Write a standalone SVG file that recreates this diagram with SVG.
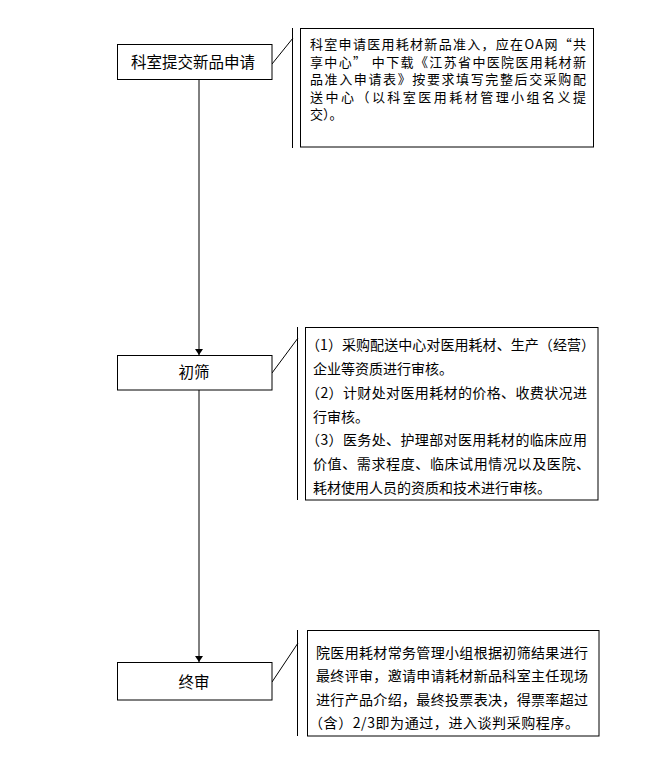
<svg xmlns="http://www.w3.org/2000/svg" width="665" height="763" viewBox="0 0 665 763">
<style>
.box{fill:#fff;stroke:#000;stroke-width:1}
.ln{fill:none;stroke:#000;stroke-width:1}
.lbl{font-family:"Noto Sans CJK SC","Liberation Sans",sans-serif;font-size:15.5px;fill:#000;text-anchor:middle}
.t{font-family:"Noto Sans CJK SC","Liberation Sans",sans-serif;font-size:14px;fill:#000}
.s{font-family:"Noto Sans CJK SC","Liberation Sans",sans-serif;font-size:13px;fill:#000}
</style>
<defs>
<marker id="arr" viewBox="0 0 6 8" refX="6" refY="4" markerWidth="6" markerHeight="8" markerUnits="userSpaceOnUse" orient="auto">
<path d="M0,0 L6,4 L0,8 Z" fill="#000"/>
</marker>
</defs>
<rect width="665" height="763" fill="#fff"/>
<g id="connectors">
<line class="ln" x1="199" y1="79.5" x2="199" y2="355" marker-end="url(#arr)"/>
<line class="ln" x1="199" y1="390" x2="199" y2="662" marker-end="url(#arr)"/>
<line class="ln" x1="272" y1="64" x2="293" y2="38"/>
<line class="ln" x1="272" y1="373" x2="298" y2="338"/>
<line class="ln" x1="272" y1="682" x2="298" y2="643"/>
<line class="ln" x1="292.5" y1="28" x2="292.5" y2="148"/>
<line class="ln" x1="297.5" y1="327" x2="297.5" y2="500"/>
<line class="ln" x1="297.5" y1="630" x2="297.5" y2="736"/>
</g>
<g id="node-apply">
<rect class="box" x="117.5" y="44.5" width="154.5" height="35"/>
<text class="lbl" x="193" y="67.5">科室提交新品申请</text>
</g>
<g id="note-apply">
<rect class="box" x="300.5" y="28.5" width="293" height="118.5"/>
<text class="s" x="310" y="49" textLength="276" lengthAdjust="spacing">科室申请医用耗材新品准入，应在OA网“共</text>
<text class="s" x="310" y="66.5" textLength="276" lengthAdjust="spacing">享中心” 中下载《江苏省中医院医用耗材新</text>
<text class="s" x="310" y="84" textLength="276" lengthAdjust="spacing">品准入申请表》按要求填写完整后交采购配</text>
<text class="s" x="310" y="101.5" textLength="276" lengthAdjust="spacing">送中心（以科室医用耗材管理小组名义提</text>
<text class="s" x="310" y="119">交）。</text>
</g>
<g id="node-screen">
<rect class="box" x="117.5" y="355.5" width="154.5" height="34.5"/>
<text class="lbl" x="194" y="377.5">初筛</text>
</g>
<g id="note-screen">
<rect class="box" x="305.5" y="327.5" width="292.5" height="172.5"/>
<text class="t" x="306" y="350" textLength="289" lengthAdjust="spacing">（1）采购配送中心对医用耗材、生产（经营）</text>
<text class="t" x="313" y="374">企业等资质进行审核。</text>
<text class="t" x="306" y="397.5" textLength="281" lengthAdjust="spacing">（2）计财处对医用耗材的价格、收费状况进</text>
<text class="t" x="313" y="421.5">行审核。</text>
<text class="t" x="306" y="445" textLength="281" lengthAdjust="spacing">（3）医务处、护理部对医用耗材的临床应用</text>
<text class="t" x="313" y="469" textLength="277" lengthAdjust="spacing">价值、需求程度、临床试用情况以及医院、</text>
<text class="t" x="313" y="493">耗材使用人员的资质和技术进行审核。</text>
</g>
<g id="node-final">
<rect class="box" x="117.5" y="662.5" width="154.5" height="37.5"/>
<text class="lbl" x="194" y="687.5">终审</text>
</g>
<g id="note-final">
<rect class="box" x="307.5" y="630.5" width="291.5" height="105.5"/>
<text class="t" x="316" y="658" textLength="272" lengthAdjust="spacing">院医用耗材常务管理小组根据初筛结果进行</text>
<text class="t" x="316" y="681" textLength="272" lengthAdjust="spacing">最终评审，邀请申请耗材新品科室主任现场</text>
<text class="t" x="316" y="704.5" textLength="272" lengthAdjust="spacing">进行产品介绍，最终投票表决，得票率超过</text>
<text class="t" x="309" y="727.5" textLength="270" lengthAdjust="spacing">（含）2/3即为通过，进入谈判采购程序。</text>
</g>
</svg>
